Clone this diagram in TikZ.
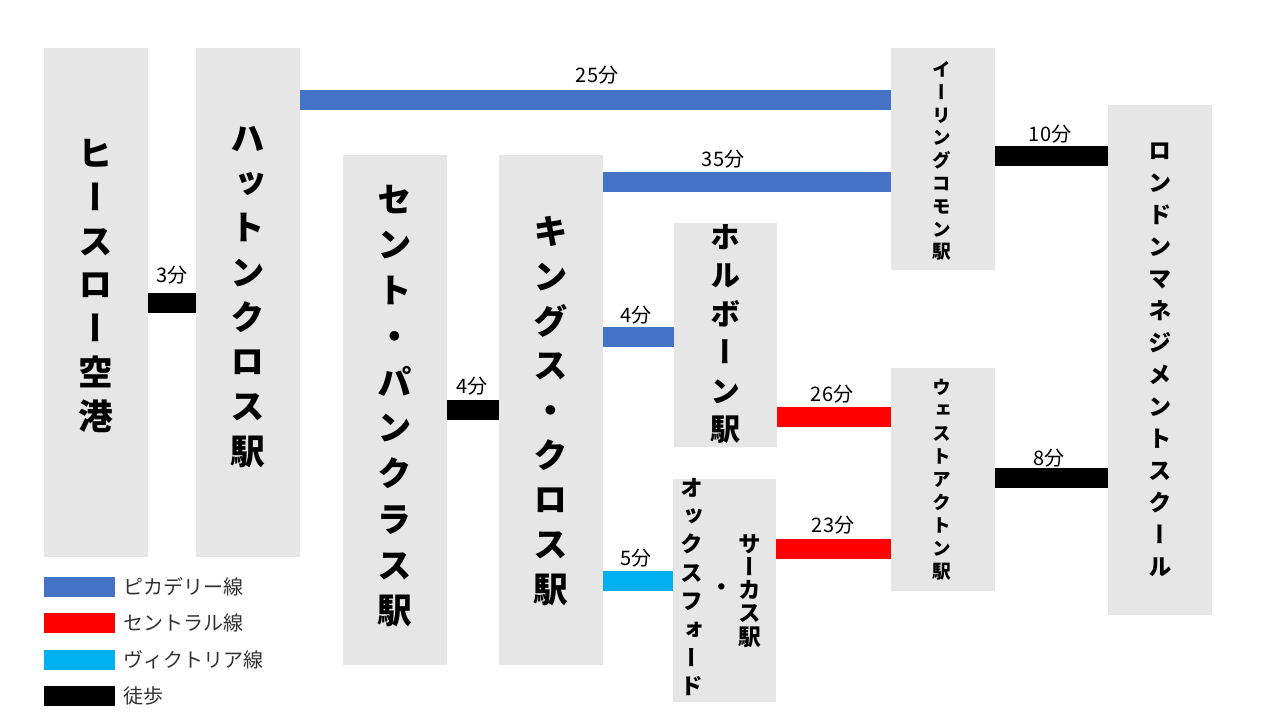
\documentclass[tikz,border=0pt]{standalone}
\usepackage{fontspec}
\newfontfamily\jp{Noto Sans CJK JP}
\newfontfamily\jpv[RawFeature={+vert}]{Noto Sans CJK JP}
\definecolor{boxgray}{HTML}{E7E6E6}
\definecolor{picc}{HTML}{4472C4}
\definecolor{cent}{HTML}{FF0000}
\definecolor{vict}{HTML}{00B0F0}
\begin{document}
\begin{tikzpicture}[x=0.75pt,y=-0.75pt,
  stn/.style n args={2}{fill=boxgray, draw=none, inner sep=0pt, minimum width=#1*0.75pt, minimum height=#2*0.75pt},
  vtxt/.style n args={2}{inner sep=0pt, align=center, font={\jpv\bfseries\fontsize{#1}{#2}\selectfont}},
  bar/.style={line width=15pt, line cap=butt},
  picline/.style={bar, draw=picc},
  centline/.style={bar, draw=cent},
  victline/.style={bar, draw=vict},
  walkline/.style={bar, draw=black},
  lbl/.style={inner sep=0pt, font={\jp\fontsize{15}{18}\selectfont}},
  legbox/.style={draw=none, inner sep=0pt, minimum width=53.25pt, minimum height=15pt},
  legtxt/.style={inner sep=0pt, anchor=west, font={\jp\fontsize{15}{18}\selectfont}, text=black!80}
]
\useasboundingbox (0,0) rectangle (1280,720);
\fill[white] (0,0) rectangle (1280,720);

% station boxes
\node[stn={104}{509}] (A) at (96,302.5) {};
\node[stn={104}{509}] (B) at (248,302.5) {};
\node[stn={104}{510}] (C) at (395,410) {};
\node[stn={104}{510}] (D) at (551,410) {};
\node[stn={103}{224}] (E) at (725.5,335) {};
\node[stn={103}{223}] (F) at (724.5,590.5) {};
\node[stn={104}{222}] (G) at (943,159) {};
\node[stn={104}{223}] (H) at (943,479.5) {};
\node[stn={104}{510}] (I) at (1160,360) {};

% station names (vertical)
\node[vtxt={26}{32.9}] (At) at (96,286) {ヒ\\ー\\ス\\ロ\\ー\\空\\港};
\node[vtxt={26}{33.5}] (Bt) at (248,297) {ハ\\ッ\\ト\\ン\\ク\\ロ\\ス\\駅};
\node[vtxt={26}{34.3}] (Ct) at (395,406) {セ\\ン\\ト\\・\\パ\\ン\\ク\\ラ\\ス\\駅};
\node[vtxt={26}{33.5}] (Dt) at (551,411) {キ\\ン\\グ\\ス\\・\\ク\\ロ\\ス\\駅};
\node[vtxt={22.5}{28.8}] (Et) at (725.5,334) {ホ\\ル\\ボ\\ー\\ン\\駅};
\node[vtxt={17}{21.3}] (Ft1) at (692,587) {オ\\ッ\\ク\\ス\\フ\\ォ\\ー\\ド};
\node[vtxt={17}{17.3}] (Ftd) at (722,590) {・};
\node[vtxt={17}{17.3}] (Ft2) at (750,591) {サ\\ー\\カ\\ス\\駅};
\node[vtxt={14}{17.1}] (Gt) at (942,161) {イ\\ー\\リ\\ン\\グ\\コ\\モ\\ン\\駅};
\node[vtxt={14}{17.2}] (Ht) at (942,480) {ウ\\ェ\\ス\\ト\\ア\\ク\\ト\\ン\\駅};
\node[vtxt={17.5}{24}] (It) at (1160,360) {ロ\\ン\\ド\\ン\\マ\\ネ\\ジ\\メ\\ン\\ト\\ス\\ク\\ー\\ル};

% bar levels
\coordinate (y25) at (0,100);
\coordinate (y35) at (0,182);
\coordinate (y4b) at (0,337);
\coordinate (y5) at (0,581);
\coordinate (y26) at (0,417);
\coordinate (y23) at (0,549);
\coordinate (y10) at (0,156);
\coordinate (y8) at (0,478);

% connectors
\draw[walkline] (A.east) -- (B.west);
\draw[walkline] (C.east) -- (D.west);
\draw[picline] (B.east |- y25) -- (G.west |- y25);
\draw[picline] (D.east |- y35) -- (G.west |- y35);
\draw[picline] (D.east |- y4b) -- (E.west |- y4b);
\draw[victline] (D.east |- y5) -- (F.west |- y5);
\draw[centline] (E.east |- y26) -- (H.west |- y26);
\draw[centline] (F.east |- y23) -- (H.west |- y23);
\draw[walkline] (G.east |- y10) -- (I.west |- y10);
\draw[walkline] (H.east |- y8) -- (I.west |- y8);

% time labels
\node[lbl] (l3) at (172,275) {3分};
\node[lbl] (l4w) at (472,386) {4分};
\node[lbl] (l25) at (597,75) {25分};
\node[lbl] (l35) at (723,159) {35分};
\node[lbl] (l4) at (636,315) {4分};
\node[lbl] (l5) at (636,558) {5分};
\node[lbl] (l26) at (832,394) {26分};
\node[lbl] (l23) at (833,525) {23分};
\node[lbl] (l10) at (1050,134) {10分};
\node[lbl] (l8) at (1049,458) {8分};

% legend
\node[legbox, fill=picc] (k1) at (79,587) {};
\node[legbox, fill=cent] (k2) at (79,622.5) {};
\node[legbox, fill=vict] (k3) at (79,659.5) {};
\node[legbox, fill=black] (k4) at (79,695.5) {};
\node[legtxt] (t1) at ([xshift=6pt]k1.east) {ピカデリー線};
\node[legtxt] (t2) at ([xshift=6pt]k2.east) {セントラル線};
\node[legtxt] (t3) at ([xshift=6pt]k3.east) {ヴィクトリア線};
\node[legtxt] (t4) at ([xshift=6pt]k4.east) {徒歩};
\end{tikzpicture}
\end{document}
